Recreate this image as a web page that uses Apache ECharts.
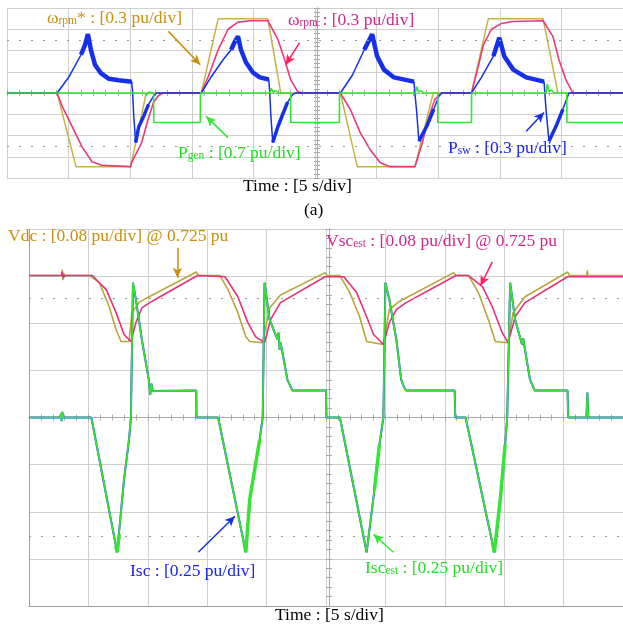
<!DOCTYPE html>
<html><head><meta charset="utf-8">
<script src="https://cdn.jsdelivr.net/npm/echarts@6/dist/echarts.min.js"></script>
<style>html,body{margin:0;padding:0;background:#fff}#c{width:623px;height:626px}</style>
</head><body><div id="c"></div><script>
const FONT = 'Liberation Serif';
// ---- panel (a): time in s (5 s/div), values in pu ----
const omegaRef = [[0,0],[4.07,0],[5.60,-1.04],[10.04,-1.04],[11.3,0],[15.77,0],[17.14,1.05],[21.17,1.05],[22.22,0],[27.06,0],[28.43,-1.04],[33.11,-1.04],[34.6,0],[37.70,0],[39.07,1.05],[43.51,1.05],[44.72,0],[50,0]];
const omegaRpm = [[0,0],[4.07,0],[4.48,-0.19],[5.28,-0.47],[6.09,-0.76],[6.90,-0.97],[7.70,-1.02],[10.04,-1.04],[10.12,-0.98],[10.93,-0.70],[11.49,-0.35],[11.90,-0.13],[12.30,-0.035],[12.70,0],[15.77,0],[16.33,0.23],[17.14,0.61],[17.94,0.90],[18.75,1.0],[19.80,1.02],[21.17,1.02],[21.98,0.76],[22.54,0.47],[23.02,0.19],[23.59,0.02],[23.99,0],[27.06,0],[27.86,-0.23],[28.67,-0.56],[29.48,-0.80],[30.28,-0.98],[31.09,-1.04],[33.11,-1.04],[33.67,-0.73],[34.23,-0.35],[34.72,-0.09],[35.28,0],[37.70,0],[38.19,0.33],[38.67,0.68],[39.32,0.90],[40.12,0.98],[41.09,1.01],[43.51,1.02],[44.31,0.80],[44.80,0.47],[45.36,0.19],[45.93,0],[50,0]];
const pSw = [[0,0],[4.07,0],[5.04,0.23],[6.01,0.54],[6.33,0.68],[6.57,0.83],[6.81,0.61],[7.14,0.40],[7.62,0.28],[8.27,0.20],[9.07,0.18],[10.12,0.16],[10.2,0],[10.28,-0.30],[10.44,-0.70],[10.69,-0.48],[11.09,-0.33],[11.49,-0.16],[11.90,-0.04],[12.14,0],[15.77,0],[16.58,0.23],[17.54,0.47],[18.19,0.61],[18.51,0.73],[18.75,0.80],[18.99,0.61],[19.40,0.43],[19.96,0.29],[20.52,0.22],[21.25,0.19],[21.33,0],[21.41,-0.30],[21.57,-0.70],[21.98,-0.48],[22.38,-0.30],[22.78,-0.13],[23.19,-0.02],[23.43,0],[27.06,0],[28.03,0.25],[29.0,0.61],[29.64,0.83],[30.04,0.52],[30.6,0.33],[31.41,0.22],[33.03,0.16],[33.11,0],[33.27,-0.30],[33.43,-0.68],[34.07,-0.47],[34.64,-0.23],[35.04,-0.05],[35.28,0],[37.70,0],[38.51,0.22],[39.48,0.52],[39.96,0.78],[40.36,0.52],[41.09,0.33],[42.14,0.22],[43.59,0.16],[43.75,-0.23],[43.99,-0.68],[44.56,-0.47],[45.12,-0.23],[45.61,0],[50,0]];
const pSwHumps = [
  [[6.01,0.54],[6.33,0.68],[6.57,0.83],[6.81,0.61],[7.14,0.40],[7.62,0.28],[8.27,0.20],[9.07,0.18],[10.12,0.16]],
  [[18.19,0.61],[18.51,0.73],[18.75,0.80],[18.99,0.61],[19.40,0.43],[19.96,0.29],[20.52,0.22],[21.25,0.19]],
  [[29.0,0.61],[29.64,0.83],[30.04,0.52],[30.6,0.33],[31.41,0.22],[33.03,0.16]],
  [[39.48,0.52],[39.96,0.78],[40.36,0.52],[41.09,0.33],[42.14,0.22],[43.59,0.16]]
];
const pSwDips = [
  [[10.44,-0.70],[10.69,-0.48],[11.09,-0.33],[11.49,-0.16]],
  [[21.57,-0.70],[21.98,-0.48],[22.38,-0.30],[22.78,-0.13]],
  [[33.43,-0.68],[34.07,-0.47],[34.64,-0.23]],
  [[43.99,-0.68],[44.56,-0.47],[45.12,-0.23]]
];
const pGen = [[0,0],[11.2,0],[11.3,-0.08],[11.5,0.03],[11.90,0],[11.91,-0.97],[15.69,-0.97],[15.70,0],[21.35,0],[21.45,0.15],[21.6,0.02],[21.8,0.08],[22.0,0],[23.02,0],[23.03,-0.97],[26.98,-0.97],[26.99,0],[33.15,0],[33.25,0.21],[33.4,0.03],[33.6,0.08],[33.8,0],[34.96,0],[34.97,-0.97],[37.70,-0.97],[37.71,0],[43.75,0],[43.85,0.30],[44.0,0.05],[44.2,0.10],[44.4,0],[45.44,0],[45.45,-0.97],[50,-0.97]];
// ---- panel (b) ----
const vdc = [[0,0.966],[2.75,0.966],[2.8,0.976],[2.85,0.958],[2.92,0.970],[3.0,0.966],[5.08,0.966],[5.92,0.954],[6.75,0.913],[7.33,0.874],[7.75,0.854],[8.42,0.854],[8.67,0.903],[9.25,0.920],[9.92,0.928],[14.08,0.972],[14.25,0.966],[16.08,0.966],[16.75,0.942],[17.58,0.903],[18.25,0.862],[18.58,0.854],[19.67,0.852],[20.25,0.911],[21.17,0.933],[24.92,0.971],[25.08,0.966],[26.17,0.966],[27.0,0.937],[27.83,0.896],[28.42,0.854],[29.83,0.849],[30.33,0.908],[31.17,0.922],[35.75,0.971],[35.92,0.966],[37.0,0.966],[37.83,0.937],[38.67,0.891],[39.25,0.854],[40.33,0.852],[40.75,0.903],[41.75,0.930],[45.33,0.972],[45.5,0.966],[46.95,0.966],[47.0,0.975],[47.05,0.966],[50,0.966]];
const vscEst = [[0,0.966],[2.75,0.966],[2.8,0.972],[2.9,0.962],[3.0,0.966],[5.33,0.966],[6.5,0.942],[7.33,0.903],[8.0,0.866],[8.58,0.854],[9.0,0.886],[9.5,0.911],[10.33,0.922],[14.0,0.964],[14.25,0.966],[16.5,0.964],[17.58,0.930],[18.42,0.886],[19.08,0.862],[19.83,0.852],[20.33,0.891],[21.17,0.920],[24.92,0.964],[25.08,0.966],[26.5,0.964],[27.58,0.937],[28.42,0.896],[29.0,0.866],[29.83,0.849],[30.33,0.886],[30.92,0.908],[31.75,0.920],[35.75,0.964],[35.92,0.966],[37.0,0.966],[38.17,0.947],[39.0,0.913],[39.83,0.869],[40.33,0.852],[40.92,0.896],[41.75,0.920],[45.33,0.964],[45.5,0.964],[50,0.964]];
const isc = [[0,0],[2.6,0],[2.7,0.02],[2.75,-0.02],[2.8,0.03],[2.9,0],[5.25,0],[7.42,-0.715],[8.0,-0.328],[8.42,-0.117],[8.58,0],[8.75,0.715],[9.0,0.625],[9.5,0.413],[10.08,0.201],[10.2,0.12],[10.3,0.18],[10.42,0.14],[10.5,0.143],[14.08,0.143],[14.1,0],[15.92,0],[18.25,-0.715],[18.58,-0.434],[19.42,-0.117],[19.67,0],[19.83,0.715],[20.25,0.519],[20.92,0.413],[21.0,0.45],[21.1,0.36],[21.17,0.40],[21.75,0.201],[22.17,0.143],[25.0,0.143],[25.04,0],[26.17,0],[28.42,-0.715],[29.08,-0.381],[29.5,-0.143],[29.83,0],[30.0,0.715],[30.33,0.625],[30.92,0.413],[31.33,0.201],[31.58,0.159],[31.75,0.143],[35.83,0.143],[35.88,0],[36.75,0],[39.17,-0.715],[39.67,-0.434],[40.08,-0.143],[40.25,0],[40.5,0.715],[40.92,0.519],[41.5,0.387],[41.6,0.42],[41.75,0.36],[42.17,0.201],[42.58,0.143],[45.33,0.143],[45.38,0],[46.92,0],[47.0,0.132],[47.08,0],[50,0]];
const iscEst = isc; // estimate overlays the measurement
const iscEstNoise = [
  [[7.3,-0.68],[7.42,-0.715],[7.6,-0.62]],
  [[18.1,-0.66],[18.25,-0.715],[18.58,-0.434],[19.42,-0.117]],
  [[29.08,-0.381],[29.5,-0.143]],
  [[39.0,-0.66],[39.17,-0.715],[39.67,-0.434],[40.08,-0.143]]
];

const joinSegs = segs => segs.reduce((a, s, i) => a.concat(i ? ['-'] : [], s), []);

const GRID = '#cfcfcf', CEN = '#a9a9a9';
function xMain(gi, border) {
  return {gridIndex: gi, type: 'value', min: 0, max: 50, interval: 5,
    axisLine: {show: border != null, onZero: false, lineStyle: {color: border || GRID}},
    axisTick: {show: false}, axisLabel: {show: false},
    splitLine: {show: true, lineStyle: {color: GRID, width: 1}}};
}
function xDecor(gi, inside, yIdx) {
  return {gridIndex: gi, type: 'value', min: 0, max: 50, interval: 5,
    axisLine: {show: true, onZero: true, onZeroAxisIndex: yIdx, lineStyle: {color: CEN}},
    axisTick: {show: true, inside, length: 3, lineStyle: {color: CEN}},
    minorTick: {show: true, splitNumber: 5, length: 3, lineStyle: {color: CEN}},
    axisLabel: {show: false}, splitLine: {show: false}};
}
function yMain(gi, border) {
  return {gridIndex: gi, type: 'value', min: -4, max: 4, interval: 1,
    axisLine: {show: border != null, onZero: false, lineStyle: {color: border || GRID}},
    axisTick: {show: false}, axisLabel: {show: false},
    splitLine: {show: true, lineStyle: {color: GRID, width: 1}}};
}
function yDecor(gi, inside, offset) {
  return {gridIndex: gi, type: 'value', min: -4, max: 4, interval: 1, position: 'left', offset,
    axisLine: {show: true, onZero: false, lineStyle: {color: CEN}},
    axisTick: {show: true, inside, length: 3, lineStyle: {color: CEN}},
    minorTick: {show: true, splitNumber: 5, length: 3, lineStyle: {color: CEN}},
    axisLabel: {show: false}, splitLine: {show: false}};
}
const yHidden = (gi, min, max) => ({gridIndex: gi, type: 'value', min, max, show: false});

function line(name, data, xi, yi, color, width, z) {
  return {name, type: 'line', data, xAxisIndex: xi, yAxisIndex: yi, symbol: 'none', showSymbol: false,
    connectNulls: false, lineStyle: {color, width}, itemStyle: {color}, z, silent: true};
}
function arrow(p1, p2, color) {
  return [{coord: p1, symbol: 'none', lineStyle: {color, width: 1.5, type: 'solid'}},
          {coord: p2, symbol: 'arrow', symbolSize: [7, 10]}];
}
const dotted = (v) => ({yAxis: v, symbol: 'none', lineStyle: {type: [2, 10], color: '#9a9a9a', width: 1}});

const C = {ref: '#c4b447', rpm: '#ea3a78', sw: '#1530e8', gen: '#33e633', vdc: '#b7a73a', vsc: '#e8307a', isc: '#2040c8', est: '#36e336'};
const L = {gold: '#c8900a', mag: '#d0288a', green: '#22dd22', blue: '#1a22ee'};

const s0 = line('ωrpm*', omegaRef, 0, 1, C.ref, 1.5, 2);
s0.markLine = {silent: true, symbol: 'none', label: {show: false}, animation: false,
  data: [dotted(0.75), dotted(-0.75),
    arrow([13.1, 0.87], [15.69, 0.40], L.gold),
    arrow([23.75, 0.71], [22.62, 0.40], '#ff2060'),
    arrow([17.94, -0.63], [16.17, -0.33], C.gen),
    arrow([42.14, -0.54], [43.59, -0.275], C.sw)]};

const sI = line('Isc', isc, 3, 7, C.isc, 2, 4);
sI.markLine = {silent: true, symbol: 'none', label: {show: false}, animation: false,
  data: [dotted(0.625), dotted(-0.625),
    arrow([12.5, 0.90], [12.5, 0.742], L.gold),
    arrow([39.0, 0.826], [38.0, 0.699], '#ff2060'),
    arrow([14.25, -0.715], [17.33, -0.524], C.sw),
    arrow([30.67, -0.715], [29.0, -0.62], C.gen)]};

function txt(x, y, parts, color) {
  const text = parts.map(p => '{' + (p[1] ? 's' : 'n') + '|' + p[0] + '}').join('');
  return {type: 'text', left: x, top: y, z: 100, silent: true, style: {text,
    rich: {n: {fontSize: 17.5, fontFamily: FONT, fill: color, lineHeight: 22, verticalAlign: 'bottom'},
           s: {fontSize: 11.5, fontFamily: FONT, fill: color, lineHeight: 10, verticalAlign: 'bottom'}}}};
}

const option = {
  animation: false,
  backgroundColor: '#fff',
  grid: [{left: 7, top: 8, width: 620, height: 170}, {left: 29, top: 229, width: 600, height: 377}],
  xAxis: [xMain(0), xDecor(0, true, 0), xDecor(0, false, 0),
          xMain(1, '#a0a0a0'), xDecor(1, true, 5), xDecor(1, false, 5)],
  yAxis: [yMain(0), yHidden(0, -1.2, 1.2), yHidden(0, -2.8, 2.8), yDecor(0, true, -310), yDecor(0, false, -310),
          yMain(1, '#a0a0a0'), yHidden(1, 0.405, 1.045), yHidden(1, -1, 1), yDecor(1, true, -300), yDecor(1, false, -300)],
  series: [
    s0,
    line('ωrpm', omegaRpm, 0, 1, C.rpm, 1.6, 3),
    line('Psw', pSw, 0, 1, C.sw, 1.5, 4),
    line('Psw noise', joinSegs(pSwHumps), 0, 1, C.sw, 4.5, 4),
    line('Psw noise dip', joinSegs(pSwDips), 0, 1, C.sw, 3.5, 4),
    line('Pgen', pGen, 0, 2, C.gen, 1.6, 5),
    line('Vdc', vdc, 3, 6, C.vdc, 1.6, 2),
    line('Vsc_est', vscEst, 3, 6, C.vsc, 1.6, 3),
    sI,
    line('Isc_est', iscEst, 3, 7, C.est, 1.7, 5),
    line('Isc_est noise', joinSegs(iscEstNoise), 3, 7, C.est, 3.5, 5)
  ],
  graphic: [
    txt(47, 9, [['ω', 0], ['rpm', 1], ['* : [0.3 pu/div]', 0]], L.gold),
    txt(288, 11, [['ω', 0], ['rpm', 1], [' : [0.3 pu/div]', 0]], L.mag),
    txt(178, 144, [['P', 0], ['gen', 1], [' : [0.7 pu/div]', 0]], L.green),
    txt(448, 139, [['P', 0], ['sw', 1], [' : [0.3 pu/div]', 0]], L.blue),
    txt(243, 177, [['Time : [5 s/div]', 0]], '#000'),
    txt(304, 201, [['(a)', 0]], '#000'),
    txt(8, 227, [['Vdc : [0.08 pu/div] @ 0.725 pu', 0]], L.gold),
    txt(326, 232, [['Vsc', 0], ['est', 1], [' : [0.08 pu/div] @ 0.725 pu', 0]], L.mag),
    txt(130, 562, [['Isc : [0.25 pu/div]', 0]], L.blue),
    txt(365, 559, [['Isc', 0], ['est', 1], [' : [0.25 pu/div]', 0]], L.green),
    txt(275, 606, [['Time : [5 s/div]', 0]], '#000')
  ]
};
const chart = echarts.init(document.getElementById('c'), null, {renderer: 'canvas'});
chart.setOption(option);
</script></body></html>
